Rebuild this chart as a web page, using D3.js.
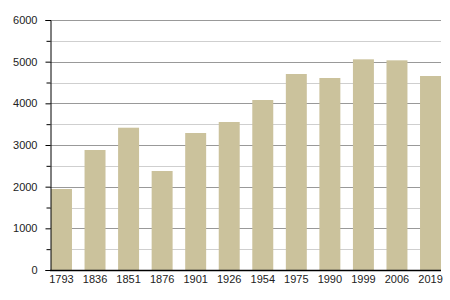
<!DOCTYPE html>
<html><head><meta charset="utf-8">
<script src="https://cdn.jsdelivr.net/npm/d3@7"></script>
<style>body{margin:0;background:#fff}svg{display:block}</style>
</head><body>
<svg id="c" width="450" height="300"></svg>
<script>
const years = ["1793","1836","1851","1876","1901","1926","1954","1975","1990","1999","2006","2019"];
const population = [1944,2880,3415,2376,3288,3552,4080,4704,4608,5056,5032,4656];
const majorTicks = [0,1000,2000,3000,4000,5000,6000];
const minorTicks = [500,1500,2500,3500,4500,5500];

const svg = d3.select("#c");
const mLeft = 50, mRight = 441, mTop = 20, mBottom = 270;
const x = d3.scaleBand().domain(years).range([mLeft+1, mRight]).paddingInner(0.375).paddingOuter(0);
const y = d3.scaleLinear().domain([0,6000]).range([mBottom, mTop]);

// grid
svg.append("g").selectAll("line").data(minorTicks).join("line")
  .attr("x1", mLeft).attr("x2", mRight)
  .attr("y1", d=>Math.round(y(d))+0.5).attr("y2", d=>Math.round(y(d))+0.5)
  .attr("stroke", "#cfcfcf").attr("stroke-width", 1);
svg.append("g").selectAll("line").data(majorTicks.filter(d=>d>0)).join("line")
  .attr("x1", mLeft).attr("x2", mRight)
  .attr("y1", d=>Math.round(y(d))+0.5).attr("y2", d=>Math.round(y(d))+0.5)
  .attr("stroke", "#999").attr("stroke-width", 1);

// bars
svg.append("g").selectAll("rect").data(years).join("rect")
  .attr("x", d=>x(d)).attr("width", x.bandwidth())
  .attr("y", (d,i)=>y(population[i])).attr("height", (d,i)=>mBottom - y(population[i]))
  .attr("fill", "#cbc29c");

// y axis
const ya = svg.append("g").attr("transform", `translate(${mLeft+0.5},0)`)
  .call(d3.axisLeft(y).tickValues(majorTicks).tickSize(5).tickPadding(8).tickFormat(d3.format("d")));
ya.select(".domain").attr("stroke", "#000");
ya.selectAll(".tick line").attr("stroke", "#000");
ya.selectAll("text").attr("font-family", "Liberation Sans, Arial, sans-serif").attr("font-size", 11).attr("fill", "#222");
svg.append("g").attr("transform", `translate(${mLeft+0.5},0)`)
  .call(d3.axisLeft(y).tickValues(minorTicks).tickSize(4).tickFormat(""))
  .call(g=>g.select(".domain").remove())
  .selectAll("line").attr("stroke", "#000");

// x axis
const xa = svg.append("g").attr("transform", `translate(0,${mBottom+0.5})`)
  .call(d3.axisBottom(x).tickSize(0).tickPadding(5));
xa.select(".domain").attr("d", `M${mLeft},0H${mRight}`).attr("stroke", "#000").attr("stroke-width", 1.5);
xa.selectAll("text").attr("font-family", "Liberation Sans, Arial, sans-serif").attr("font-size", 11).attr("fill", "#222");
</script>
</body></html>
